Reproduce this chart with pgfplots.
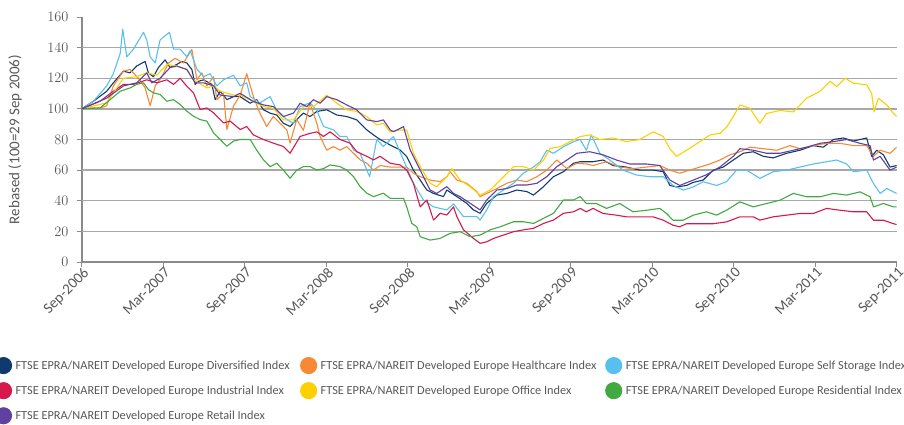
\documentclass[border=0pt]{standalone}
\usepackage{pgfplots}
\pgfplotsset{compat=1.18}
\usepackage{fontspec}
\setmainfont{Carlito}
\definecolor{cDiv}{RGB}{16,58,110}
\definecolor{cHC}{RGB}{247,137,52}
\definecolor{cSS}{RGB}{88,192,238}
\definecolor{cInd}{RGB}{214,24,76}
\definecolor{cOff}{RGB}{255,208,0}
\definecolor{cRes}{RGB}{66,168,66}
\definecolor{cRet}{RGB}{96,64,160}
\definecolor{axisgray}{RGB}{138,138,138}
\definecolor{gridgray}{RGB}{168,168,168}
\definecolor{txtgray}{RGB}{88,88,90}
\begin{document}
\begin{tikzpicture}[x=1pt,y=1pt]
\useasboundingbox (0,0) rectangle (904,424);
\clip (0,0) rectangle (904,424);
\begin{axis}[
  at={(81.7pt,162pt)}, anchor=south west,
  scale only axis, width=815pt, height=245pt,
  xmin=0, xmax=60, ymin=0, ymax=160,
  axis lines*=left,
  axis line style={draw=axisgray, line width=1.8pt},
  xtick={0,6,...,60},
  xticklabels={Sep-2006,Mar-2007,Sep-2007,Mar-2008,Sep-2008,Mar-2009,Sep-2009,Mar-2010,Sep-2010,Mar-2011,Sep-2011},
  ytick={0,20,...,160},
  extra y ticks={20,40,...,140}, extra y tick labels={},
  extra y tick style={grid=major, major tick length=0pt},
  major grid style={draw=gridgray, line width=1.3pt},
  tick align=outside, major tick length=5pt,
  tick style={draw=axisgray, line width=1pt},
  ticklabel style={font=\fontsize{15}{15}\selectfont, text=txtgray},
  xticklabel style={rotate=45, anchor=north east, inner sep=0pt, xshift=1pt},
  yticklabel style={inner sep=0pt, xshift=-8pt},
  ylabel={Rebased (100=29 Sep 2006)},
  ylabel style={font=\fontsize{15}{15}\selectfont, text=txtgray, at={(axis description cs:-0.0818,0.5)}, anchor=center},
  no markers,
  every axis plot/.append style={line width=1.1pt, line join=round},
  legend columns=3,
  legend cell align=left,
  legend image code/.code={\fill (0pt,0pt) circle (8pt);},
  legend style={at={(-0.1064,-0.3878)}, anchor=north west, draw=none, fill=none,
    inner xsep=0pt, inner ysep=0pt, outer sep=0pt,
    nodes={inner sep=0pt}, column sep=3.5pt, row sep=8pt,
    font=\fontsize{12.3}{12.3}\selectfont, text=txtgray},
]
\addplot[color=cDiv] coordinates {(0,100) (0.86,105) (1.84,111.5) (2.33,117) (3.07,124.6) (3.56,123.5) (4.05,128) (4.67,131) (4.91,123.5) (5.28,121) (5.65,127) (6.14,132) (6.51,127) (7.0,129) (7.37,131) (7.74,130) (8.11,125.7) (8.35,116) (8.6,118) (8.97,119) (9.58,116) (9.83,106) (10.2,111.5) (10.69,106) (11.18,108) (11.66,108) (12.4,103.7) (12.89,106) (13.38,99.4) (13.87,97.2) (14.36,96) (14.85,90.6) (15.34,88.5) (15.83,93) (16.32,97.2) (16.81,95) (17.31,98.3) (18.04,99.4) (18.78,96) (19.51,95) (20.25,92.8) (20.99,86.3) (21.48,83) (21.97,80) (22.71,76.4) (23.44,73.2) (23.93,68.8) (24.42,60) (24.92,53.5) (25.41,47) (25.9,44.8) (26.63,42.7) (26.88,47) (27.62,42.7) (28.35,38.3) (28.84,34) (29.33,31.8) (29.82,38.3) (30.56,43.7) (31.3,44.8) (32.03,47) (32.77,46) (33.26,43.7) (34.0,49.2) (34.73,55.7) (35.47,59) (36.21,64.5) (36.7,65.5) (37.65,65.5) (38.38,66.6) (39.12,63) (40.1,62) (41.09,60) (42.07,60) (42.81,59) (43.3,50) (43.79,49) (44.53,50) (45.02,52) (45.75,53.5) (46.49,60) (47.23,62) (47.97,66.6) (48.7,71) (49.44,72) (50.18,69) (50.91,68) (51.9,71) (52.88,73) (53.86,76) (54.6,75) (55.34,80) (56.07,81) (56.81,79) (57.79,81) (58.16,69) (58.53,73) (59.02,70) (59.51,62) (60,63)};
\addlegendentry{\makebox[281pt][l]{FTSE EPRA/NAREIT Developed Europe Diversified Index}}
\addplot[color=cHC] coordinates {(0,100) (0.61,100.6) (1.35,100.6) (1.84,102) (2.33,115) (3.07,124.6) (3.56,125.7) (4.18,120) (4.67,113.7) (5.04,102) (5.41,115) (5.9,121) (6.39,130) (6.88,133) (7.49,130) (8.11,138.8) (8.48,119) (8.85,123.5) (9.21,115) (9.71,121) (9.95,106) (10.44,110) (10.69,86.5) (11.18,102) (11.67,109) (12.15,123) (12.64,108) (13.13,97) (13.62,88.5) (14.11,95) (14.61,90.6) (15.1,86.3) (15.34,77.6) (15.83,93) (16.32,86) (16.81,103.7) (17.31,90.6) (17.55,82) (18.04,73) (18.53,75.4) (19.02,73) (19.51,75.4) (20.01,71) (20.5,66.7) (20.99,64.5) (21.48,60) (21.97,63) (22.71,62) (23.93,62) (24.42,58) (24.92,55.7) (25.65,53.5) (26.39,52.5) (26.88,55.7) (27.12,59) (27.62,53.5) (28.35,51.4) (29.09,46) (29.33,42.7) (29.82,44.8) (30.56,48) (31.3,51.4) (32.03,53.5) (32.77,52.5) (33.51,55.7) (34.24,60) (34.98,66.6) (35.72,61) (36.45,64.5) (37.15,64) (37.65,63) (38.63,65.5) (39.61,62) (40.59,61) (41.58,62) (42.56,63) (43.3,60) (44.03,58) (44.77,60) (45.51,62) (46.25,64) (46.98,66.6) (47.72,70) (48.46,72) (49.19,75) (50.18,74) (51.16,73) (52.14,76) (52.88,74) (53.86,76) (54.85,77.5) (55.83,77.5) (56.81,76) (57.79,76) (58.29,69) (58.78,73) (59.51,71) (60,75)};
\addlegendentry{\makebox[281pt][l]{FTSE EPRA/NAREIT Developed Europe Healthcare Index}}
\addplot[color=cSS] coordinates {(0,100) (0.86,105) (1.84,115) (2.33,123) (2.83,136) (3.02,152) (3.32,134) (3.81,139) (4.55,150) (4.79,145) (5.04,134) (5.41,130) (5.77,145) (6.46,150) (6.76,139) (7.25,139) (7.74,134) (7.99,138) (8.48,126) (8.97,121) (9.46,123) (9.95,115) (10.44,119) (11.18,122) (11.67,115) (12.15,117) (12.4,108) (13.13,104) (13.87,108) (14.36,99) (15.1,93) (15.59,90.6) (16.08,101.5) (16.81,104) (17.31,99) (17.8,88.5) (18.53,86.3) (19.02,82) (19.51,82) (20.01,73.2) (20.5,71) (20.99,60) (21.2,55.8) (21.72,80) (22.21,75.4) (22.95,81.9) (23.69,66.6) (24.42,51.4) (25.16,40.5) (25.9,36) (26.88,34) (27.37,38) (28.11,29.6) (29.09,29.6) (29.33,27.4) (29.82,34) (30.32,42.7) (31.05,47) (31.79,51.4) (32.52,58) (33.26,62) (33.75,65.5) (34.24,73) (34.73,71) (35.47,75.3) (36.21,78.6) (36.7,80) (37.15,73) (37.52,83) (38.14,71) (38.87,66.6) (39.86,60) (40.84,56.8) (41.82,55.7) (42.81,55.7) (43.54,50) (44.28,47) (45.02,49) (45.75,52.4) (46.74,50) (47.47,52.4) (48.21,60) (48.95,60) (49.93,54.6) (50.91,59) (51.9,60) (52.88,62) (53.86,64) (54.85,65.5) (55.58,66.6) (56.32,64) (56.81,59) (57.79,60) (58.29,51.3) (58.78,44.8) (59.27,48) (59.76,45.8) (60,44.8)};
\addlegendentry{\makebox[281pt][l]{FTSE EPRA/NAREIT Developed Europe Self Storage Index}}
\addplot[color=cInd] coordinates {(0,100) (1.35,105) (2.33,111.5) (3.07,116) (3.81,116) (4.79,119) (5.53,117) (6.27,119) (6.76,116) (7.25,120) (7.74,114.8) (8.23,110.5) (8.72,99.6) (9.21,100.6) (9.71,97.4) (10.44,90.8) (10.93,92) (11.67,86.5) (12.15,88.5) (12.64,83) (13.38,80) (14.11,77.6) (14.85,75.4) (15.34,71) (16.08,82) (16.81,84) (17.31,85) (17.8,82) (18.29,85) (19.02,80) (19.76,77.6) (20.25,72) (20.99,69) (21.48,66.7) (21.97,69) (22.71,64.5) (23.44,63.4) (23.93,60) (24.42,51.4) (24.92,36) (25.41,40.5) (25.9,27.4) (26.39,31.8) (26.88,30.7) (27.37,36) (27.62,29.6) (28.11,21) (28.84,15.4) (29.33,12.2) (29.82,13.2) (30.32,15.4) (31.05,17.6) (31.79,19.8) (32.52,21) (33.26,22) (34.0,25.2) (34.73,27.4) (35.47,31.8) (36.21,32.8) (36.7,35) (37.15,32.8) (37.65,35) (38.38,31.7) (39.37,30.6) (40.1,29.5) (41.09,29.5) (42.07,29.5) (42.81,27.3) (43.54,24) (44.03,23) (44.53,25) (45.51,25) (46.49,25) (47.47,26.2) (48.46,29.5) (49.44,29.5) (49.93,27.3) (50.91,29.5) (51.9,30.6) (52.88,31.7) (53.86,31.7) (54.85,35) (55.83,33.8) (56.81,32.8) (57.79,32.8) (58.29,27.3) (59.02,27.3) (59.76,25) (60,24.5)};
\addlegendentry{\makebox[281pt][l]{FTSE EPRA/NAREIT Developed Europe Industrial Index}}
\addplot[color=cOff] coordinates {(0,100) (1.84,104) (3.07,120) (4.05,121) (4.79,123.5) (5.53,122) (6.27,129) (7.0,128) (7.74,125.7) (8.23,119) (9.21,113.7) (9.71,115) (10.2,111.5) (11.18,109) (11.66,109) (12.64,104.8) (13.38,101.5) (14.11,100.4) (14.85,92.8) (15.59,92.8) (16.32,101.5) (17.06,101.5) (17.8,107) (18.04,109) (18.78,103.7) (19.51,99.4) (20.25,98.3) (20.99,95) (21.72,89.5) (22.2,90.6) (22.71,85) (23.44,86.2) (23.93,86.2) (24.42,71) (24.92,62.3) (25.65,51.4) (26.14,49.2) (26.88,55.7) (27.25,61) (27.86,53.5) (28.6,49.2) (29.33,43.7) (30.07,47) (30.81,53.5) (31.79,62.3) (32.52,62.3) (33.26,60) (34.0,66.6) (34.49,74.2) (35.22,75.3) (35.96,78.6) (36.7,81.9) (37.4,83) (38.14,80) (39.12,81) (40.1,78.6) (41.09,80) (42.07,85) (42.81,82) (43.3,74) (43.79,69) (44.53,73) (45.51,78.6) (46.25,83) (46.98,84) (47.47,88) (47.97,95) (48.46,102.6) (49.19,100.4) (49.93,90.6) (50.42,97) (51.41,99) (52.39,98) (53.37,107) (54.35,111.4) (55.09,118) (55.58,114.6) (56.2,120) (56.81,116.8) (57.79,115.7) (58.16,110) (58.33,98) (58.65,107) (59.27,102.6) (59.76,97) (60,95)};
\addlegendentry{\makebox[281pt][l]{FTSE EPRA/NAREIT Developed Europe Office Index}}
\addplot[color=cRes] coordinates {(0,100) (1.35,100.6) (2.09,106) (2.83,111.5) (3.56,113.7) (4.05,116) (4.55,117) (4.91,112.6) (5.28,110.5) (5.77,109.4) (6.27,105) (6.76,106) (7.25,102.8) (7.74,98.5) (8.23,95.2) (8.72,93) (9.21,92) (9.71,84.3) (10.2,80) (10.69,75.6) (11.18,79) (11.67,80) (12.4,80) (12.89,73) (13.38,66.7) (13.87,62.3) (14.36,64.5) (14.85,60) (15.34,54.7) (15.83,60) (16.32,62.3) (16.81,62.3) (17.31,60) (17.8,61) (18.29,63.4) (19.02,62.3) (19.51,60) (20.01,55.8) (20.5,49.2) (20.99,44.9) (21.48,42.7) (22.21,44.9) (22.71,41.6) (23.69,41.6) (23.93,36) (24.3,25.2) (24.67,23) (24.92,16.5) (25.65,14.3) (26.39,15.4) (27.12,18.7) (27.86,19.8) (28.6,16.5) (29.33,17.6) (30.07,21) (30.81,23) (31.79,26.3) (32.52,26.3) (33.26,25.2) (34.0,28.5) (34.73,31.8) (35.47,40.5) (36.21,40.5) (36.7,42.7) (37.15,38.2) (37.89,38.2) (38.63,35) (39.61,38.2) (40.59,32.8) (41.58,33.8) (42.56,35) (43.05,31.7) (43.54,27.3) (44.28,27.3) (45.02,30.6) (46.0,32.8) (46.74,30.6) (47.47,33.8) (48.46,39.3) (49.44,36) (50.42,38.2) (51.41,40.4) (52.39,44.8) (53.37,42.6) (54.35,42.6) (55.34,44.8) (56.32,43.7) (57.3,45.8) (58.04,42.6) (58.29,36) (59.02,38.2) (59.76,36) (60,36)};
\addlegendentry{\makebox[281pt][l]{FTSE EPRA/NAREIT Developed Europe Residential Index}}
\addplot[color=cRet] coordinates {(0,100) (1.84,107) (3.07,115) (4.05,117) (4.79,123.5) (5.16,117) (5.77,120) (6.51,127) (7.0,128) (7.74,125.7) (8.35,117) (8.97,117) (9.71,115) (10.2,109) (11.18,108) (11.66,110.2) (12.64,104.8) (13.38,102.6) (14.11,101.5) (14.85,95) (15.59,97.2) (16.08,103.7) (16.57,101.5) (17.06,106) (17.55,103.7) (18.04,108) (18.78,106) (19.51,102.6) (20.25,99.4) (20.99,92.8) (21.72,91.7) (22.21,92.8) (22.71,86.3) (22.95,85.1) (23.69,88.4) (24.18,73.2) (24.67,64.5) (25.16,55.7) (25.65,47) (26.14,44.8) (26.88,49.2) (27.37,44.8) (27.86,42.7) (28.6,38.3) (29.33,34) (29.82,40.5) (30.56,47) (31.3,48) (32.03,50.3) (32.77,50.3) (33.51,51.4) (34.24,55.7) (34.98,62.3) (35.72,66.6) (36.45,71) (37.4,72) (38.38,70) (39.37,66.6) (40.35,64) (41.58,64) (42.56,63) (43.3,53.5) (44.03,50) (45.02,53.5) (46.0,57) (46.98,62) (47.97,69) (48.46,74) (49.44,73) (50.42,71) (51.41,71) (52.39,73) (53.37,75) (54.35,77.5) (55.34,78.6) (56.32,80) (57.3,77.5) (58.04,76) (58.29,66.6) (58.78,69) (59.51,60) (60,62)};
\addlegendentry{\makebox[281pt][l]{FTSE EPRA/NAREIT Developed Europe Retail Index}}
\end{axis}
\end{tikzpicture}
\end{document}
